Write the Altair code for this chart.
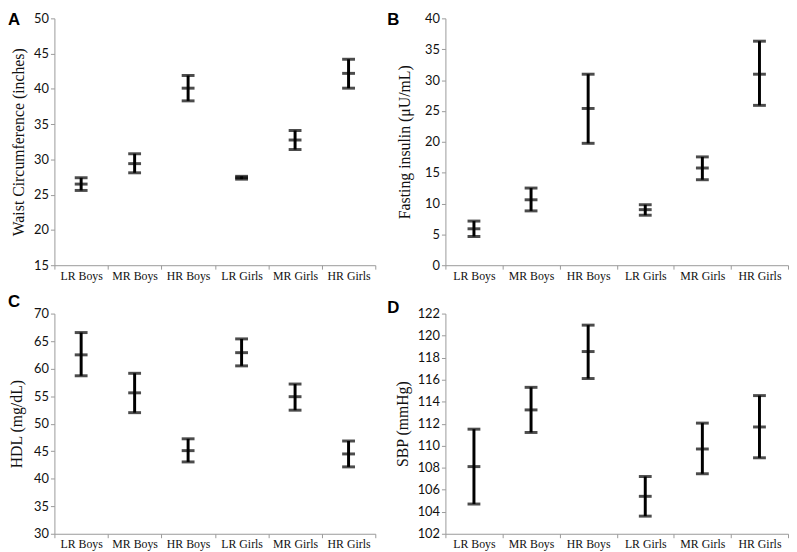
import altair as alt
import pandas as pd

groups = ["LR Boys", "MR Boys", "HR Boys", "LR Girls", "MR Girls", "HR Girls"]

waist_mean = [26.5, 29.4, 40.1, 27.4, 32.75, 42.2]
waist_low = [25.6, 28.1, 38.3, 27.2, 31.4, 40.1]
waist_high = [27.4, 30.8, 41.9, 27.6, 34.1, 44.2]

ins_mean = [5.9, 10.6, 25.4, 9.0, 15.75, 30.95]
ins_low = [4.65, 8.8, 19.75, 8.1, 13.85, 25.9]
ins_high = [7.15, 12.5, 30.95, 9.8, 17.55, 36.3]

hdl_mean = [62.5, 55.6, 45.1, 62.9, 54.9, 44.5]
hdl_low = [58.7, 52.0, 43.05, 60.5, 52.45, 42.15]
hdl_high = [66.55, 59.15, 47.25, 65.4, 57.2, 46.85]

sbp_mean = [108.1, 113.25, 118.55, 105.4, 109.7, 111.7]
sbp_low = [104.7, 111.2, 116.1, 103.6, 107.45, 108.9]
sbp_high = [111.5, 115.3, 120.95, 107.2, 112.05, 114.55]


def panel(letter, mean, low, high, domain, step, ytitle, width, height,
          lx, ly, tpad):
    df = pd.DataFrame({"group": groups, "mean": mean, "low": low, "high": high})
    vals = list(range(domain[0], domain[1] + 1, step))
    xaxis = alt.Axis(labelAngle=0, tickBand="extent", labelFont="Liberation Serif",
                     labelFontSize=12, labelColor="#111", tickSize=4,
                     labelPadding=1, domainColor="#999", tickColor="#999")
    yaxis = alt.Axis(values=vals, grid=False, labelFont="Lato", labelFontSize=13,
                     labelOverlap=False, labelFlush=False,
                     labelColor="#111", tickSize=4, domainColor="#999",
                     tickColor="#999", titleFont="Liberation Serif",
                     titleFontSize=16, titleFontWeight="normal",
                     titleColor="#111", titlePadding=tpad)
    yscale = alt.Scale(domain=domain, nice=False, zero=False)
    x = alt.X("group:N", sort=groups, title=None,
              scale=alt.Scale(paddingInner=0, paddingOuter=0), axis=xaxis)

    def yenc(field):
        return alt.Y(field + ":Q", title=ytitle, scale=yscale, axis=yaxis)

    base = alt.Chart(df)
    rule = base.mark_rule(color="black", strokeWidth=3).encode(
        x=x, y=yenc("low"), y2="high:Q")
    cap_lo = base.mark_tick(color="black", size=13, thickness=3).encode(
        x=x, y=yenc("low"))
    cap_hi = base.mark_tick(color="black", size=13, thickness=3).encode(
        x=x, y=yenc("high"))
    mid = base.mark_tick(color="black", size=13, thickness=3).encode(
        x=x, y=yenc("mean"))
    lab = alt.Chart(pd.DataFrame({"t": [letter]})).mark_text(
        font="Liberation Sans", fontSize=17, fontWeight="bold", align="left",
        baseline="top", color="black").encode(
        text="t:N", x=alt.value(lx), y=alt.value(ly))
    return alt.layer(rule, cap_lo, cap_hi, mid, lab).properties(width=width, height=height)


A = panel("A", waist_mean, waist_low, waist_high, [15, 50], 5,
          "Waist Circumference (inches)", 325, 250, -47, -6, 7)
B = panel("B", ins_mean, ins_low, ins_high, [0, 40], 5,
          "Fasting insulin (\u03bcU/mL)", 347, 250, -59, -6, 12)
C = panel("C", hdl_mean, hdl_low, hdl_high, [30, 70], 5,
          "HDL (mg/dL)", 325, 223, -47, -20, 9)
D = panel("D", sbp_mean, sbp_low, sbp_high, [102, 122], 2,
          "SBP (mmHg)", 347, 223, -59, -14, 7)

chart = alt.vconcat(
    alt.hconcat(A, B, spacing=11),
    alt.hconcat(C, D, spacing=11),
    spacing=12,
).properties(padding=0, background="white").configure_view(
    stroke=None).configure_axis(labelOverlap=False)

chart.save("out.html", embed_options={"renderer": "svg", "actions": False})
